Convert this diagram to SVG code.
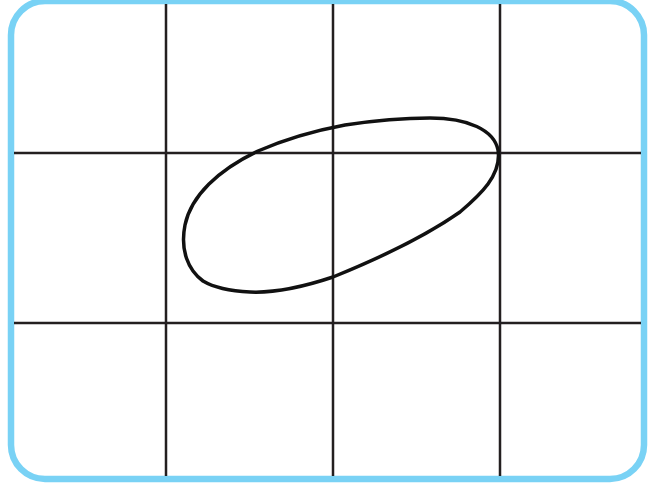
<svg xmlns="http://www.w3.org/2000/svg" width="652" height="485" viewBox="0 0 652 485">
<style>
.grid{stroke:#231f20;stroke-width:2.5;fill:none}
.curve{stroke:#111;stroke-width:3.5;fill:none;stroke-linejoin:round;stroke-linecap:round}
.frame{fill:#fff;stroke:#79d2f5;stroke-width:6.5}
</style>
<rect x="0" y="0" width="652" height="485" fill="#fff"/>
<rect class="frame" x="11" y="1" width="633" height="478" rx="34"/>
<g id="grid">
<line class="grid" x1="166" y1="4" x2="166" y2="476"/>
<line class="grid" x1="333" y1="4" x2="333" y2="476"/>
<line class="grid" x1="500" y1="4" x2="500" y2="476"/>
<line class="grid" x1="14" y1="153" x2="641" y2="153"/>
<line class="grid" x1="14" y1="323" x2="641" y2="323"/>
</g>
<g id="loop">
<path class="curve" d="M 203 281 C 188 270, 180 250, 185 225 C 191 196, 218 170, 258 151 C 288 138, 318 130, 345 125 C 378 120, 405 118, 430 118 C 468 118, 494 130, 498 150 C 502 175, 480 195, 460 212 C 420 240, 370 262, 333 277 C 300 288, 272 293, 250 292 C 230 291, 213 287, 203 281"/>
</g>
</svg>
